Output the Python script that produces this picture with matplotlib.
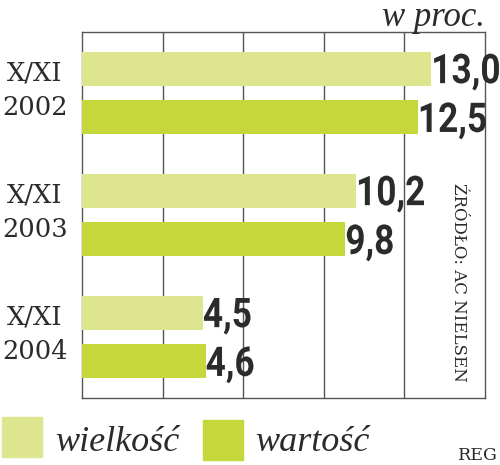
import numpy as np
import matplotlib.pyplot as plt
from matplotlib.patches import Rectangle, PathPatch
from matplotlib.textpath import TextPath
from matplotlib.font_manager import FontProperties
from matplotlib.transforms import blended_transform_factory, Affine2D, ScaledTranslation

# dane
okresy_1 = ["X/XI", "X/XI", "X/XI"]
okresy_2 = ["2002", "2003", "2004"]
wielkosc = [13.0, 10.2, 4.5]
wartosc = [12.5, 9.8, 4.6]
etykiety_w = ["13,0", "10,2", "4,5"]
etykiety_v = ["12,5", "9,8", "4,6"]

kolor_jasny = "#dde68f"
kolor_ciemny = "#c6d73b"
kolor_tekst = "#2b2b2b"

fig = plt.figure(figsize=(5, 4.65), dpi=100)
ax = fig.add_axes([82/500, 1-398/465, 403/500, 366/465])

y = np.arange(len(okresy_2)) + 0.5
h = 0.28
ax.barh(y - 0.2, wielkosc, height=h, color=kolor_jasny, zorder=3)
ax.barh(y + 0.2, wartosc, height=h, color=kolor_ciemny, zorder=3)

ax.set_xlim(0, 15)
ax.set_ylim(3, 0)
ax.set_xticks([3, 6, 9, 12])
ax.set_yticks([])
ax.tick_params(axis="x", length=0, labelbottom=False)
ax.grid(axis="x", color="#555555", linewidth=1.0, zorder=0)
for s in ax.spines.values():
    s.set_color("#555555")
    s.set_linewidth(1.0)

# liczby - pogrubione, lekko zwezone
fp = FontProperties(family="Roboto", weight="bold")
rozmiar = 41  # px
cap = 0.71 * rozmiar

def liczba(x, yy, s):
    tp = TextPath((0, 0), s, size=rozmiar, prop=fp)
    tr = Affine2D().scale(0.86, 1).translate(0, -cap / 2) + ScaledTranslation(x, yy, ax.transData)
    p = PathPatch(tp, transform=tr, color=kolor_tekst, lw=0, clip_on=False, zorder=4)
    ax.add_artist(p)

for i in range(len(y)):
    liczba(wielkosc[i], y[i] - 0.2, etykiety_w[i])
    liczba(wartosc[i], y[i] + 0.2, etykiety_v[i])

tr = blended_transform_factory(fig.transFigure, ax.transData)
for i in range(len(y)):
    ax.text(35/500, y[i] - 0.165, okresy_1[i], transform=tr, ha="center", va="center",
            fontsize=18.5, family="DejaVu Serif", color=kolor_tekst)
    ax.text(35/500, y[i] + 0.115, okresy_2[i], transform=tr, ha="center", va="center",
            fontsize=18.5, family="DejaVu Serif", color=kolor_tekst)

fig.text(485/500, 1-26/465, "w proc.", ha="right", va="baseline", fontsize=25,
         family="Liberation Serif", style="italic", color=kolor_tekst)

fig.text(459/500, 1-282/465, "ŹRÓDŁO: AC NIELSEN", rotation=-90, ha="center", va="center",
         fontsize=12, family="DejaVu Serif", color=kolor_tekst)

# legenda
fig.patches.append(Rectangle((2/500, 1-457/465), 40/500, 40/465, transform=fig.transFigure,
                             color=kolor_jasny))
fig.patches.append(Rectangle((203/500, 1-460/465), 40/500, 40/465, transform=fig.transFigure,
                             color=kolor_ciemny))
fig.text(55/500, 1-451/465, "wielkość", ha="left", va="baseline", fontsize=26,
         family="Liberation Serif", style="italic", color=kolor_tekst)
fig.text(255/500, 1-451/465, "wartość", ha="left", va="baseline", fontsize=26,
         family="Liberation Serif", style="italic", color=kolor_tekst)
fig.text(498/500, 1-460/465, "REG", ha="right", va="baseline", fontsize=12.5,
         family="DejaVu Serif", color=kolor_tekst)

fig.savefig("out.png", dpi=100)
